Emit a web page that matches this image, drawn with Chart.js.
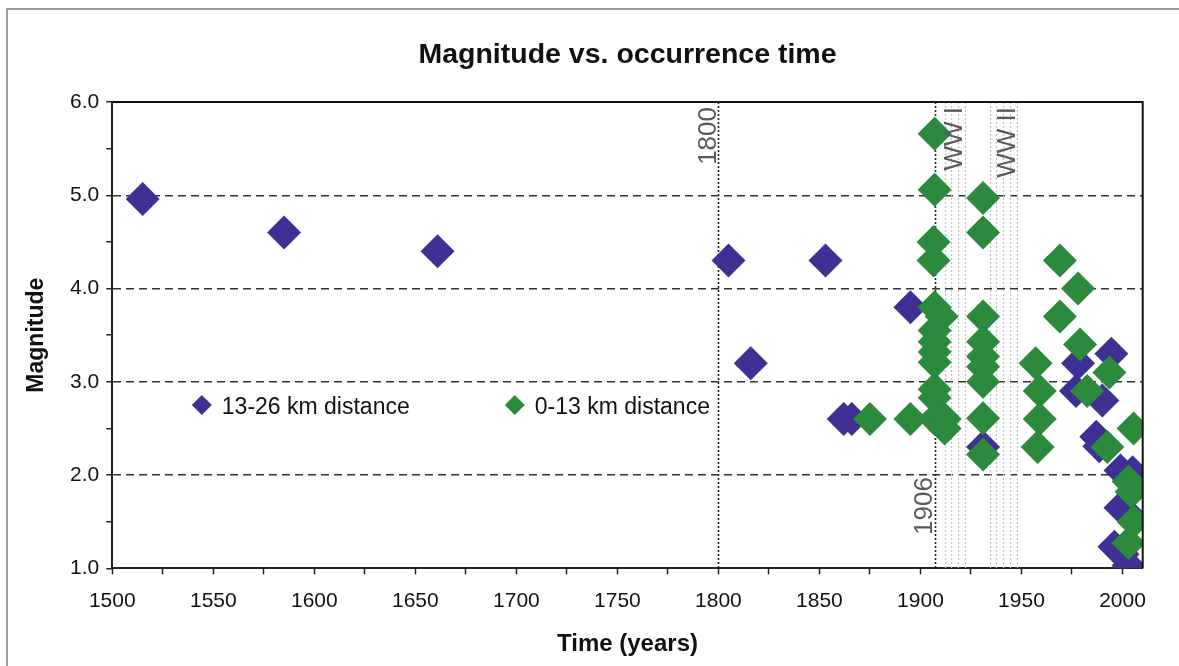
<!DOCTYPE html>
<html><head><meta charset="utf-8">
<script src="https://cdn.jsdelivr.net/npm/chart.js@4/dist/chart.umd.min.js"></script>
<style>
html,body{margin:0;padding:0;background:#fff;overflow:hidden}
#wrap{position:relative;width:1179px;height:666px;overflow:hidden}
#frame{position:absolute;left:6px;top:8px;width:1300px;height:800px;border:2px solid #9c9ca8;box-sizing:border-box}
#c{position:absolute;left:0;top:0;width:1179px;height:666px}
</style></head><body>
<div id="wrap"><div id="frame"></div><canvas id="c" width="1179" height="666"></canvas></div>
<script>
// ---- data ----
const seriesNames = ['13-26 km distance', '0-13 km distance'];
const blueYears = [1515, 1585, 1661, 1805, 1816, 1853, 1862, 1866, 1895, 1931,
  1977, 1978, 1994.5, 1990, 1987, 1988.5, 1999, 2005, 1999, 2002, 1996, 2000, 2003];
const blueMags = [4.96, 4.6, 4.4, 4.3, 3.2, 4.3, 2.6, 2.6, 3.8, 2.3,
  2.9, 3.2, 3.3, 2.8, 2.41, 2.31, 2.05, 2.03, 1.65, 1.6, 1.23, 1.15, 1.03];
const greenYears = [1875, 1895,
  1907, 1907, 1906.5, 1906.5, 1907, 1910.5, 1907, 1907, 1907, 1907, 1907, 1907, 1907, 1912, 1912,
  1931, 1931, 1931, 1931, 1931, 1931, 1931, 1931, 1931,
  1957, 1959, 1959, 1958,
  1969, 1969, 1978, 1979, 1982.5, 1993.5, 1992.5, 2005.5, 2003, 2004.5, 2005.5, 2003];
const greenMags = [2.6, 2.6,
  5.66, 5.06, 4.5, 4.3, 3.8, 3.7, 3.55, 3.43, 3.32, 3.21, 2.92, 2.83, 2.6, 2.6, 2.5,
  4.97, 4.6, 3.7, 3.43, 3.27, 3.16, 3.0, 2.61, 2.22,
  3.2, 2.9, 2.6, 2.3,
  4.3, 3.7, 4.0, 3.4, 2.9, 3.1, 2.3, 2.5, 1.93, 1.82, 1.5, 1.27];
const markerLineYears = [1800, 1907];
const ww1LineYears = [1912, 1915, 1918.5, 1922];
const ww2LineYears = [1934.5, 1937.5, 1941, 1944.5, 1947.8];
const annotTexts = ['1800', '1906', 'WW I', 'WW II'];
const annotYears = [1800, 1907, 1922, 1947.8];

const FONT = "'Liberation Sans', Arial, Helvetica, sans-serif";
const BLUE = '#3e3193';
const GREEN = '#2b8a3b';
const zip = (xs, ys) => xs.map((v, i) => ({x: v, y: ys[i]}));

const extras = {
  id: 'extras',
  afterLayout(chart) {
    const t = chart.titleBlock;
    if (t) { t.left = chart.chartArea.left; t.right = chart.chartArea.right; t.width = t.right - t.left; }
  },
  beforeDatasetsDraw(chart) {
    const {ctx, chartArea: a, scales: {x}} = chart;
    ctx.save();
    const vline = (yr, color, dash, w) => {
      const px = Math.round(x.getPixelForValue(yr)) + 0.5;
      ctx.beginPath(); ctx.strokeStyle = color; ctx.lineWidth = w; ctx.setLineDash(dash);
      ctx.moveTo(px, a.top); ctx.lineTo(px, a.bottom); ctx.stroke();
    };
    ww1LineYears.concat(ww2LineYears).forEach(v => vline(v, '#c2c2c2', [2, 2], 1.2));
    markerLineYears.forEach(v => vline(v, '#222', [2, 2], 1.6));
    ctx.restore();
  },
  afterDatasetsDraw(chart) {
    const {ctx, chartArea: a, scales: {x, y}} = chart;
    ctx.save();
    ctx.setLineDash([]); ctx.strokeStyle = '#111'; ctx.lineWidth = 2;
    ctx.beginPath(); ctx.moveTo(a.left, a.top); ctx.lineTo(a.right, a.top); ctx.lineTo(a.right, a.bottom); ctx.stroke();
    ctx.fillStyle = '#5a5a5a';
    annotTexts.forEach((t, i) => {
      const px = x.getPixelForValue(annotYears[i]) - 2.5;
      const top = (t === '1906') ? y.getPixelForValue(2.0) + 2 : a.top + 5;
      ctx.save();
      ctx.translate(px, top);
      ctx.rotate(-Math.PI / 2);
      ctx.font = '26px ' + FONT;
      ctx.textAlign = 'right'; ctx.textBaseline = 'alphabetic';
      ctx.fillText(t, 0, 0);
      ctx.restore();
    });
    const items = [
      {name: seriesNames[0], color: BLUE, mx: a.left + 89.5},
      {name: seriesNames[1], color: GREEN, mx: a.left + 402.5}
    ];
    const ly = 405;
    items.forEach(it => {
      ctx.fillStyle = it.color;
      ctx.beginPath();
      ctx.moveTo(it.mx - 10, ly); ctx.lineTo(it.mx, ly - 10); ctx.lineTo(it.mx + 10, ly); ctx.lineTo(it.mx, ly + 10);
      ctx.closePath(); ctx.fill();
      ctx.fillStyle = '#111';
      ctx.font = '23px ' + FONT;
      ctx.textAlign = 'left'; ctx.textBaseline = 'middle';
      ctx.fillText(it.name, it.mx + 20, ly + 3);
    });
    ctx.restore();
  }
};

new Chart(document.getElementById('c'), {
  type: 'scatter',
  data: {
    datasets: [
      {label: seriesNames[1], data: zip(greenYears, greenMags), backgroundColor: GREEN, borderWidth: 0,
       pointStyle: 'rectRot', pointRadius: 17, pointHoverRadius: 17},
      {label: seriesNames[0], data: zip(blueYears, blueMags), backgroundColor: BLUE, borderWidth: 0,
       pointStyle: 'rectRot', pointRadius: 17, pointHoverRadius: 17}
    ]
  },
  options: {
    responsive: false,
    animation: false,
    events: [],
    devicePixelRatio: 1,
    layout: {padding: {left: 0, right: 36.3, top: 0, bottom: 0}},
    plugins: {
      legend: {display: false},
      tooltip: {enabled: false},
      title: {display: true, text: 'Magnitude vs. occurrence time', color: '#111',
        font: {family: FONT, size: 28.5, weight: 'bold'}, padding: {top: 38, bottom: 29.8}}
    },
    scales: {
      x: {
        type: 'linear', min: 1500, max: 2010,
        afterFit: s => { s.height = 97.7; },
        border: {color: '#222', width: 2},
        grid: {drawOnChartArea: false, drawTicks: true, tickLength: 6, tickColor: '#222', tickWidth: 1.5},
        ticks: {stepSize: 25, includeBounds: false, autoSkip: false, maxRotation: 0, padding: 14,
          color: '#111', font: {family: FONT, size: 21},
          callback: v => (v % 50 === 0 ? String(v) : '')},
        title: {display: true, text: 'Time (years)', color: '#111',
          font: {family: FONT, size: 24, weight: 'bold'}, padding: {top: 4, bottom: 7}}
      },
      y: {
        type: 'linear', min: 1, max: 6,
        afterFit: s => { s.width = 112.3; },
        border: {color: '#222', width: 2, dash: [8, 5]},
        grid: {
          color: c => (c.tick && Number.isInteger(c.tick.value) && c.tick.value > 1 && c.tick.value < 6) ? '#333' : 'rgba(0,0,0,0)',
          lineWidth: 1.5, tickLength: 6, tickColor: '#222', tickWidth: 1.5, tickBorderDash: []
        },
        ticks: {stepSize: 0.5, autoSkip: false, padding: 7, color: '#111', font: {family: FONT, size: 21},
          callback: v => (Number.isInteger(v) ? v.toFixed(1) : '')},
        title: {display: true, text: 'Magnitude', color: '#111',
          font: {family: FONT, size: 23, weight: 'bold'}, padding: {top: 23, bottom: 4}}
      }
    }
  },
  plugins: [extras]
});
</script>
</body></html>
